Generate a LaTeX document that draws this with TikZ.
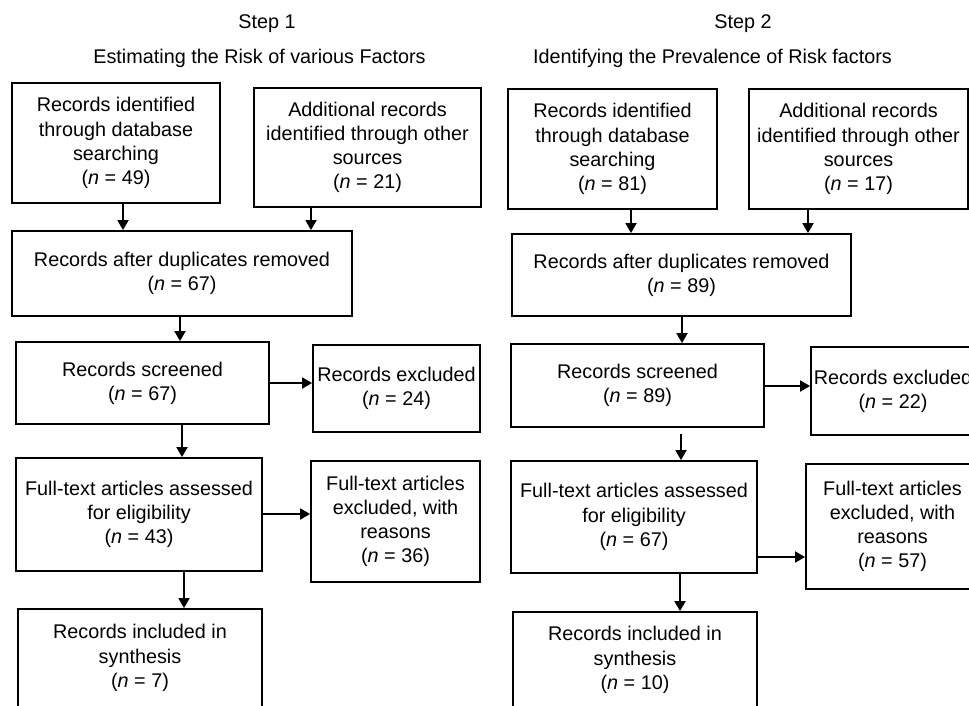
\documentclass[tikz,border=0pt]{standalone}
\usepackage{fontspec}
\setmainfont{Liberation Sans}
\usetikzlibrary{arrows.meta,calc}
\tikzset{
  box/.style={draw=black, line width=1.8pt, inner sep=0pt, align=center,
    font=\fontsize{19.8}{24.2}\selectfont},
  title/.style={anchor=base, inner sep=0pt, font=\fontsize{19.8}{24.2}\selectfont},
  arr/.style={line width=1.8pt, -{Triangle[length=10pt,width=11pt]}}
}
\newcommand{\boxnode}[6]{\node[box, minimum width={#4-#2}, minimum height={#5-#3}] (#1) at ({(#2+#4)/2},{(#3+#5)/2}) {#6};}
\begin{document}
\begin{tikzpicture}[x=1pt,y=-1pt]
\useasboundingbox (0,0) rectangle (969,706);
\fill[white] (0,0) rectangle (969,706);
\clip (0,0) rectangle (969,706);
% titles
\node[title] (s1) at (267,29) {Step 1};
\node[title] (t1) at (259.5,64) {Estimating the Risk of various Factors};
\node[title] (s2) at (743,29) {Step 2};
\node[title] (t2) at (712.5,64) {Identifying the Prevalence of Risk factors};
% left panel
\boxnode{A}{12}{83}{220}{203}{Records identified\\through database\\searching\\(\textit{n} = 49)}
\boxnode{B}{254}{88}{481}{207}{Additional records\\identified through other\\sources\\(\textit{n} = 21)}
\boxnode{C}{12}{231}{352}{316}{Records after duplicates removed\\(\textit{n} = 67)}
\boxnode{D}{16}{342}{269}{424}{Records screened\\(\textit{n} = 67)}
\boxnode{E}{313}{345}{480}{432}{Records excluded\\(\textit{n} = 24)}
\boxnode{F}{16}{458}{262}{571}{Full-text articles assessed\\for eligibility\\(\textit{n} = 43)}
\boxnode{G}{311}{461}{480}{582}{Full-text articles\\excluded, with\\reasons\\(\textit{n} = 36)}
\boxnode{H}{18}{609}{262}{707}{Records included in\\synthesis\\(\textit{n} = 7)}
% right panel
\boxnode{A2}{508}{89}{717}{209}{Records identified\\through database\\searching\\(\textit{n} = 81)}
\boxnode{B2}{749}{89}{968}{209}{Additional records\\identified through other\\sources\\(\textit{n} = 17)}
\boxnode{C2}{512}{234}{851}{316}{Records after duplicates removed\\(\textit{n} = 89)}
\boxnode{D2}{511}{344}{764}{427}{Records screened\\(\textit{n} = 89)}
\boxnode{E2}{811}{347}{975}{435}{Records excluded\\(\textit{n} = 22)}
\boxnode{F2}{511}{461}{757}{573}{Full-text articles assessed\\for eligibility\\(\textit{n} = 67)}
\boxnode{G2}{806}{464}{979}{589}{Full-text articles\\excluded, with\\reasons\\(\textit{n} = 57)}
\boxnode{H2}{513}{612}{757}{708}{Records included in\\synthesis\\(\textit{n} = 10)}
% arrow guide coordinates
\coordinate (xa) at (123,0);
\coordinate (xb) at (311,0);
\coordinate (xc) at (180,0);
\coordinate (xd) at (182,0);
\coordinate (xf) at (184,0);
\coordinate (yd) at (0,383);
\coordinate (yf) at (0,514);
\coordinate (xa2) at (631,0);
\coordinate (xb2) at (808,0);
\coordinate (xc2) at (682,0);
\coordinate (xd2) at (681,0);
\coordinate (xf2) at (680,0);
\coordinate (yd2) at (0,386);
\coordinate (yf2) at (0,557);
% left arrows
\draw[arr] (A.south -| xa) -- (C.north -| xa);
\draw[arr] (B.south -| xb) -- (C.north -| xb);
\draw[arr] (C.south -| xc) -- (D.north -| xc);
\draw[arr] (D.east |- yd) -- (E.west |- yd);
\draw[arr] (D.south -| xd) -- (F.north -| xd);
\draw[arr] (F.east |- yf) -- (G.west |- yf);
\draw[arr] (F.south -| xf) -- (H.north -| xf);
% right arrows
\draw[arr] (A2.south -| xa2) -- (C2.north -| xa2);
\draw[arr] (B2.south -| xb2) -- (C2.north -| xb2);
\draw[arr] (C2.south -| xc2) -- (D2.north -| xc2);
\draw[arr] (D2.east |- yd2) -- (E2.west |- yd2);
\draw[arr, shorten <=6pt] (D2.south -| xd2) -- (F2.north -| xd2);
\draw[arr] (F2.east |- yf2) -- (G2.west |- yf2);
\draw[arr] (F2.south -| xf2) -- (H2.north -| xf2);
\end{tikzpicture}
\end{document}
